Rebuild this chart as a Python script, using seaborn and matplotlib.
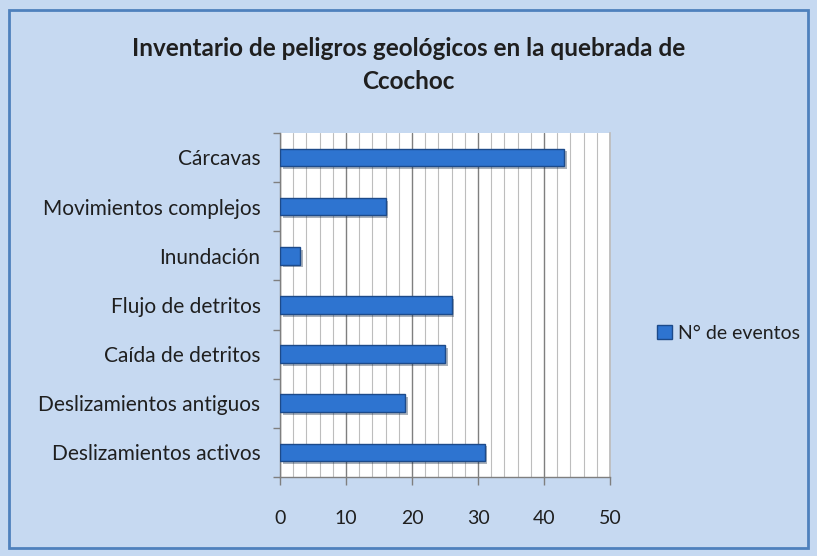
import numpy as np
import pandas as pd
import matplotlib
matplotlib.use("Agg")
import matplotlib.pyplot as plt
import matplotlib.patheffects as pe
from matplotlib.patches import Rectangle
from matplotlib.ticker import MultipleLocator
import seaborn as sns

# Data (top to bottom)
categories = ["Cárcavas", "Movimientos complejos", "Inundación", "Flujo de detritos",
              "Caída de detritos", "Deslizamientos antiguos", "Deslizamientos activos"]
eventos = [43, 16, 3, 26, 25, 19, 31]
series_name = "N° de eventos"
x_ticks = [0, 10, 20, 30, 40, 50]

df = pd.DataFrame({"peligro": categories, "eventos": eventos, "serie": series_name})

sns.set_theme(style="white")
plt.rcParams["font.family"] = ["Lato", "DejaVu Sans"]

bg = "#c6d9f1"
txt = "#1f1f1f"
fig = plt.figure(figsize=(8.17, 5.56), dpi=100, facecolor=bg)
# outer chart border
fig.patches.append(Rectangle((0.011, 0.014), 0.978, 0.968, transform=fig.transFigure,
                             fill=False, edgecolor="#4f81bd", linewidth=2))

ax = fig.add_axes([0.3427, 0.142, 0.404, 0.619])
ax.set_facecolor("white")

sns.barplot(data=df, x="eventos", y="peligro", hue="serie", orient="h",
            palette=["#2e74d0"], saturation=1, width=0.36, edgecolor="#1c4a8a",
            linewidth=1, ax=ax, legend=True, zorder=3)
for bar in ax.patches:
    bar.set_path_effects([pe.SimplePatchShadow(offset=(2, -2), alpha=0.35), pe.Normal()])

ax.set_xlim(0, 50)
ax.set_ylim(len(categories) - 0.5, -0.5)
ax.xaxis.set_minor_locator(MultipleLocator(2))
ax.grid(which="minor", axis="x", color="#bdbdbd", linewidth=0.8, zorder=0)
ax.grid(which="major", axis="x", color="#7f7f7f", linewidth=1.0, zorder=0)
ax.set_axisbelow(True)

ax.set_xticks(x_ticks)
ax.set_xticklabels([str(t) for t in x_ticks])
ax.set_yticks(range(len(categories)))
ax.set_yticklabels(categories)
ax.set_yticks(np.arange(-0.5, len(categories), 1), minor=True)
ax.tick_params(axis="x", which="major", length=6, width=1, color="#7f7f7f",
               labelsize=14, labelcolor=txt, pad=18, bottom=True)
ax.tick_params(axis="x", which="minor", length=0)
ax.tick_params(axis="y", which="major", length=0, labelsize=15, labelcolor=txt, pad=14)
ax.tick_params(axis="y", which="minor", length=5, width=1, color="#7f7f7f", left=True)
ax.set_xlabel("")
ax.set_ylabel("")

for side in ["left", "bottom"]:
    ax.spines[side].set_color("#7f7f7f")
    ax.spines[side].set_linewidth(1.0)
ax.spines["top"].set_visible(False)
ax.spines["right"].set_color("#bdbdbd")

handles, labels = ax.get_legend_handles_labels()
ax.get_legend().remove()
for h in handles:
    h.set_path_effects([])
fig.legend(handles, labels, loc="center left", bbox_to_anchor=(0.783, 0.401),
           frameon=False, fontsize=14, handlelength=0.75, handleheight=0.75,
           handletextpad=0.3, labelcolor=txt)

fig.text(0.5, 0.883, "Inventario de peligros geológicos en la quebrada de\nCcochoc",
         ha="center", va="center", fontsize=17.5, fontweight="bold", color=txt,
         linespacing=1.5)

fig.savefig("out.png", dpi=100, facecolor=bg)
